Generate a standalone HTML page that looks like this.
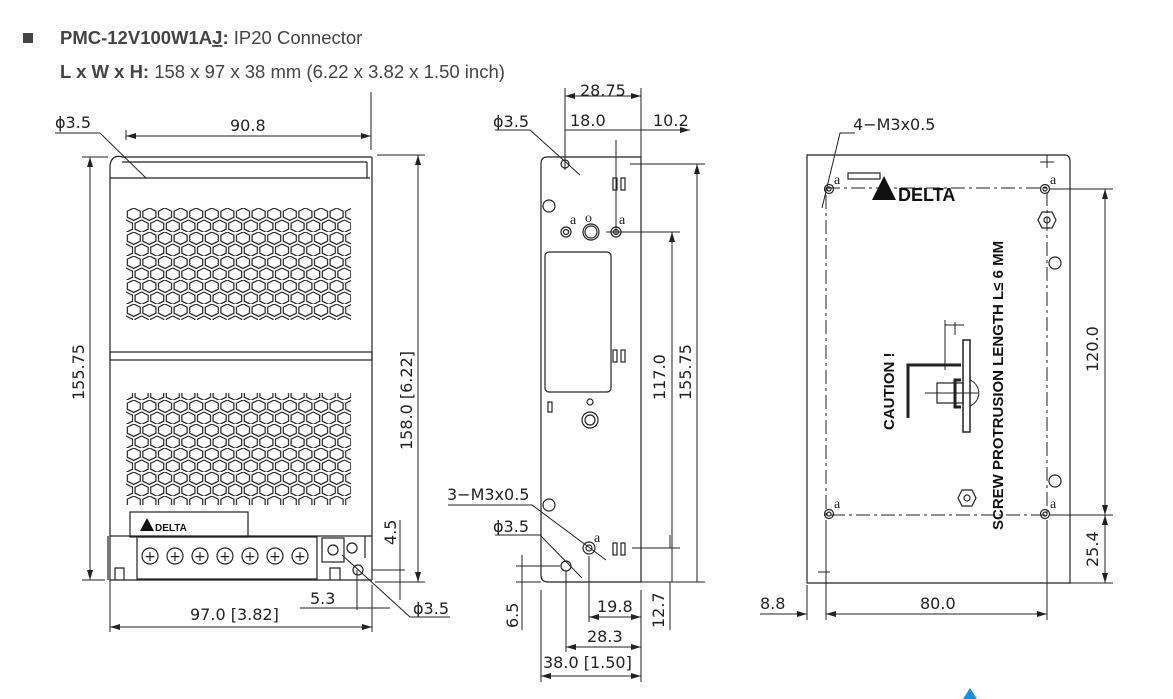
<!DOCTYPE html>
<html><head><meta charset="utf-8"><style>
body{margin:0;background:#fff;width:1173px;height:699px;overflow:hidden;font-family:"Liberation Sans",sans-serif}
svg{position:absolute;left:0;top:0}
.t{font-family:"DejaVu Sans","Liberation Sans",sans-serif;font-size:16px;fill:#222}
</style></head><body>
<svg width="1173" height="699" viewBox="0 0 1173 699" xmlns="http://www.w3.org/2000/svg">
<defs>
<pattern id="hx" x="126" y="208" width="15.6" height="24" patternUnits="userSpaceOnUse">
<g fill="none" stroke="#222" stroke-width="1.2">
<polygon points="7.8,0 14.3,3.2 14.3,9.2 7.8,12.4 1.3,9.2 1.3,3.2"/>
<polygon points="0,12 6.5,15.2 6.5,21.2 0,24.4 -6.5,21.2 -6.5,15.2"/>
<polygon points="15.6,12 22.1,15.2 22.1,21.2 15.6,24.4 9.1,21.2 9.1,15.2"/>
</g></pattern>
<marker id="a" markerWidth="10" markerHeight="6" refX="10" refY="3" orient="auto-start-reverse" markerUnits="userSpaceOnUse"><path d="M0,0 L10,3 L0,6z" fill="#222"/></marker>
</defs>
<!-- header -->
<rect x="23" y="33" width="10" height="10" fill="#444"/>
<text x="60" y="44" font-family="Liberation Sans" font-size="18.5" fill="#444"><tspan font-weight="bold">PMC-12V100W1A<tspan text-decoration="underline">J</tspan>:</tspan> IP20 Connector</text>
<text x="60" y="78" font-family="Liberation Sans" font-size="18.5" fill="#444"><tspan font-weight="bold">L x W x H:</tspan> 158 x 97 x 38 mm (6.22 x 3.82 x 1.50 inch)</text>

<g stroke="#222" stroke-width="1.2" fill="none">
<!-- FRONT VIEW -->
<path d="M110,580 V178 M372,580 V178"/>
<path d="M110,178 H370 M122,157 H372 M122,162 H367 M110,178 V165 Q112,154 122,157 M367,162 V178 M372,157 V178"/>
<rect x="110" y="352" width="262" height="8"/>
<rect x="126" y="208" width="225" height="112" fill="url(#hx)" stroke="none"/>
<rect x="126" y="393" width="225" height="112" fill="url(#hx)" stroke="none"/>
<path d="M110,580 H372"/>
<rect x="130" y="512" width="118" height="25"/>
<path d="M110,536 H372 M108,536 V580"/>
<rect x="137" y="537" width="180" height="42"/>
<rect x="322" y="538" width="22" height="24"/>
<circle cx="333" cy="550" r="5"/>
<circle cx="352" cy="548" r="5"/>
<circle cx="358" cy="570" r="5"/>
<path d="M115,580 V568 H124 V580 M330,580 V568 H340 V580 M365,536 V558"/>
<!-- dims front -->
<path d="M126,140 V130 M371,150 V92" stroke-width="1"/>
<path d="M126,136 H371" marker-start="url(#a)" marker-end="url(#a)" stroke-width="1"/>
<path d="M55,133 H100 L146,178" stroke-width="1"/>
<path d="M82,157 H108 M82,580 H105" stroke-width="1"/>
<path d="M90,157 V580" marker-start="url(#a)" marker-end="url(#a)" stroke-width="1"/>
<path d="M377,155 H425 M377,582 H425" stroke-width="1"/>
<path d="M418,155 V582" marker-start="url(#a)" marker-end="url(#a)" stroke-width="1"/>
<path d="M372,570 H405 M375,582 H405 M400,520 V600" stroke-width="1"/>
<path d="M110,580 V632 M372,585 V632 M357,570 V610 M110,627 H372" stroke-width="1"/>
<path d="M110,627 H372" marker-start="url(#a)" marker-end="url(#a)" stroke-width="1"/>
<path d="M300,608 H390" stroke-width="1"/>
<path d="M342,555 L410,617 H450" stroke-width="1"/>

<!-- SIDE VIEW -->
<path d="M547,157 H641 V582 H548 Q541,582 541,575 V164 Q541,157 547,157"/>
<path d="M565,170 V88 M641,212 V88 M616,140 V235 M641,88" stroke-width="1"/>
<path d="M565,96 H641" marker-start="url(#a)" marker-end="url(#a)" stroke-width="1"/>
<path d="M565,130 H616 M616,130 H641 M641,130 H690" stroke-width="1" marker-end="url(#a)"/>
<path d="M495,130 H530 L580,175" stroke-width="1"/>
<circle cx="565" cy="164" r="4"/>
<circle cx="549" cy="206" r="6"/>
<circle cx="566" cy="232" r="5"/><circle cx="566" cy="232" r="2.5"/>
<circle cx="591" cy="232" r="8"/><circle cx="591" cy="232" r="6"/>
<circle cx="616" cy="232" r="5"/><circle cx="616" cy="232" r="2.5"/>
<rect x="545" y="252" width="66" height="140" rx="4"/>
<rect x="613" y="178" width="4" height="12"/><rect x="621" y="178" width="4" height="12"/>
<rect x="613" y="350" width="4" height="12"/><rect x="621" y="350" width="4" height="12"/>
<rect x="548" y="402" width="4" height="10"/>
<circle cx="590" cy="402" r="3"/>
<circle cx="590" cy="420" r="8"/><circle cx="590" cy="420" r="5"/>
<circle cx="549" cy="505" r="6"/>
<circle cx="589" cy="548" r="6"/><circle cx="589" cy="548" r="3"/>
<rect x="613" y="543" width="4" height="12"/><rect x="621" y="543" width="4" height="12"/>
<circle cx="566" cy="566" r="5"/>
<path d="M606,232 H680 M630,164 H705 M641,582 H705 M632,548 H680" stroke-width="1"/>
<path d="M672,232 V582" marker-start="url(#a)" stroke-width="1"/>
<path d="M697,164 V582" marker-start="url(#a)" stroke-width="1"/>
<path d="M670,548 V535 M670,582 V630" stroke-width="1"/>
<path d="M448,505 H532 L606,560 M495,535 H540 L582,578" stroke-width="1"/>
<path d="M516,566 H560 M516,582 H541 M522,555 V630" stroke-width="1"/>
<path d="M589,556 V622 M566,571 V652 M541,590 V682 M641,590 V682" stroke-width="1"/>
<path d="M589,617 H641" marker-start="url(#a)" marker-end="url(#a)" stroke-width="1"/>
<path d="M566,647 H641" marker-start="url(#a)" marker-end="url(#a)" stroke-width="1"/>
<path d="M541,676 H641" marker-start="url(#a)" marker-end="url(#a)" stroke-width="1"/>

<!-- BACK VIEW -->
<path d="M807,155 H1065 Q1070,155 1070,162 V583 H807 Z"/>
<rect x="826" y="188" width="221" height="327" stroke-dasharray="14,4,3,4" stroke-width="1"/>
<circle cx="829" cy="189" r="4.5"/><circle cx="829" cy="189" r="2"/>
<circle cx="1045" cy="189" r="4.5"/><circle cx="1045" cy="189" r="2"/>
<circle cx="829" cy="514" r="4.5"/><circle cx="829" cy="514" r="2"/>
<circle cx="1045" cy="514" r="4.5"/><circle cx="1045" cy="514" r="2"/>
<polygon points="1042,212 1052,212 1056,220 1052,228 1042,228 1038,220"/><circle cx="1047" cy="220" r="3"/>
<polygon points="962,490 972,490 976,498 972,506 962,506 958,498"/><circle cx="967" cy="498" r="3"/>
<circle cx="1055" cy="263" r="6"/><circle cx="1055" cy="481" r="6"/>
<rect x="848" y="173" width="32" height="6"/>
<path d="M1047,155 V168 M1040,162 H1054" stroke-width="1"/>
<path d="M855,133 H840 L822,208" stroke-width="1"/>
<path d="M1050,189 H1113 M1050,515 H1113 M1070,583 H1113" stroke-width="1"/>
<path d="M1105,189 V515" marker-start="url(#a)" marker-end="url(#a)" stroke-width="1"/>
<path d="M1105,515 V583" marker-start="url(#a)" marker-end="url(#a)" stroke-width="1"/>
<path d="M826,520 V620 M807,585 V620 M1047,520 V620 M818,572 H830" stroke-width="1"/>
<path d="M826,614 H1047" marker-start="url(#a)" marker-end="url(#a)" stroke-width="1"/>
<path d="M760,614 H807" marker-end="url(#a)" stroke-width="1"/>
<!-- caution drawing -->
<path d="M908,418 V365 H961" stroke-width="3"/>
<rect x="963" y="340" width="7" height="92" stroke-width="1.5"/>
<path d="M945,320 V370 M945,325 H964 M955,322 V335" stroke-width="1"/>
<path d="M961,380 H955 V407 H961" stroke-width="3"/>
<rect x="937" y="383" width="26" height="20"/>
<path d="M970,380 A14,14 0 0 1 970,406 M925,393 H978" stroke-width="1"/>
</g>
<!-- delta logos -->
<polygon points="872,200 884,176 896,200" fill="#111"/>
<text x="898" y="201" font-family="Liberation Sans" font-weight="bold" font-size="18" fill="#111">DELTA</text>
<polygon points="140,531 147,518 154,531" fill="#111"/>
<text x="155" y="531" font-family="Liberation Sans" font-weight="bold" font-size="10" fill="#111">DELTA</text>
<!-- terminal screws -->
<g fill="none" stroke="#222" stroke-width="1.2">
<circle cx="150" cy="556" r="8"/><circle cx="175" cy="556" r="8"/><circle cx="200" cy="556" r="8"/><circle cx="225" cy="556" r="8"/><circle cx="250" cy="556" r="8"/><circle cx="275" cy="556" r="8"/><circle cx="300" cy="556" r="8"/>
</g>
<g font-family="DejaVu Sans" font-size="14" fill="#222" text-anchor="middle">
<text x="150" y="561">+</text><text x="175" y="561">+</text><text x="200" y="561">+</text><text x="225" y="561">+</text><text x="250" y="561">+</text><text x="275" y="561">+</text><text x="300" y="561">+</text>
</g>
<!-- labels -->
<g class="t">
<text x="55" y="128">ϕ3.5</text>
<text x="230" y="131">90.8</text>
<text transform="translate(84,400) rotate(-90)">155.75</text>
<text transform="translate(412,450) rotate(-90)">158.0 [6.22]</text>
<text transform="translate(396,545) rotate(-90)">4.5</text>
<text x="310" y="604">5.3</text>
<text x="190" y="620">97.0 [3.82]</text>
<text x="413" y="614">ϕ3.5</text>
<text x="580" y="96">28.75</text>
<text x="570" y="126">18.0</text>
<text x="653" y="126">10.2</text>
<text x="493" y="127">ϕ3.5</text>
<text transform="translate(665,400) rotate(-90)">117.0</text>
<text transform="translate(691,400) rotate(-90)">155.75</text>
<text x="447" y="500">3−M3x0.5</text>
<text x="493" y="532">ϕ3.5</text>
<text transform="translate(518,628) rotate(-90)">6.5</text>
<text transform="translate(664,628) rotate(-90)">12.7</text>
<text x="597" y="612">19.8</text>
<text x="587" y="642">28.3</text>
<text x="543" y="668">38.0 [1.50]</text>
<text x="853" y="130">4−M3x0.5</text>
<text transform="translate(1098,372) rotate(-90)">120.0</text>
<text transform="translate(1098,567) rotate(-90)">25.4</text>
<text x="760" y="609">8.8</text>
<text x="920" y="609">80.0</text>
</g>
<g font-family="Liberation Sans" font-weight="bold" font-size="15" fill="#111">
<text transform="translate(894,430) rotate(-90)">CAUTION !</text>
<text transform="translate(1003,530) rotate(-90)">SCREW PROTRUSION LENGTH  L≤ 6 MM</text>
</g>
<g font-family="Liberation Serif" font-size="14" fill="#222">
<text x="570" y="224">a</text><text x="619" y="224">a</text><text x="594" y="542">a</text>
<text x="834" y="184">a</text><text x="1050" y="184">a</text><text x="834" y="508">a</text><text x="1050" y="508">a</text>
<text x="585" y="222">o</text>
</g>
<polygon points="963,699 970,688 977,699" fill="#1a8fe0"/>
</svg>
</body></html>
